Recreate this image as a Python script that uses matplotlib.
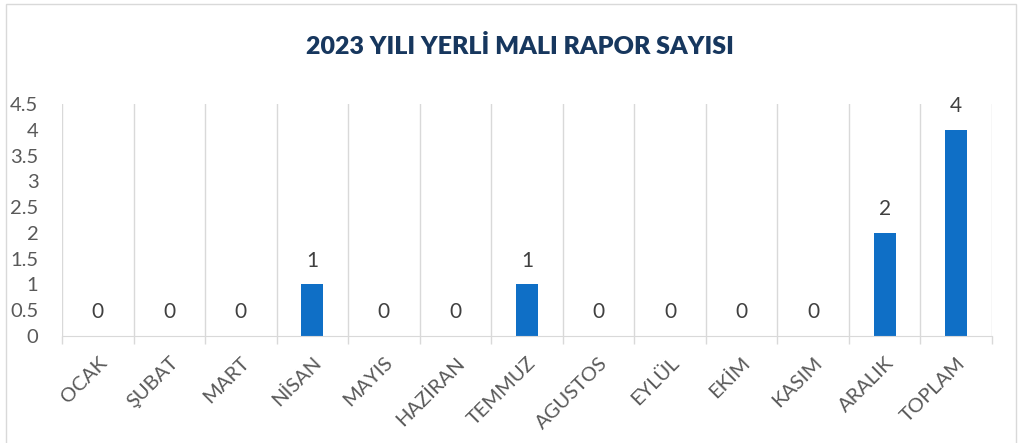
import numpy as np
import matplotlib.pyplot as plt
from matplotlib.patches import Rectangle

plt.rcParams['font.family'] = ['Lato', 'DejaVu Sans']

months = ['OCAK', 'ŞUBAT', 'MART', 'NİSAN', 'MAYIS', 'HAZİRAN', 'TEMMUZ',
          'AGUSTOS', 'EYLÜL', 'EKİM', 'KASIM', 'ARALIK', 'TOPLAM']
reports = [0, 0, 0, 1, 0, 0, 1, 0, 0, 0, 0, 2, 4]
yticks = [0, 0.5, 1, 1.5, 2, 2.5, 3, 3.5, 4, 4.5]

fig = plt.figure(figsize=(10.23, 4.43), dpi=100)
# light chart border
fig.patches.append(Rectangle((6 / 1023, -0.01), 1010 / 1023, 1.0, transform=fig.transFigure,
                             fill=False, edgecolor='#D9D9D9', linewidth=1))
ax = fig.add_axes([62 / 1023, 1 - 336 / 443, 930 / 1023, 232 / 443])

x = np.arange(len(months))
bars = ax.bar(x, reports, width=0.31, color='#0F6FC6')
ax.bar_label(bars, labels=[str(v) for v in reports], padding=10, fontsize=15, color='#404040')

ax.set_xlim(-0.5, len(months) - 0.5)
ax.set_ylim(0, 4.5)
ax.set_yticks(yticks)
ax.set_yticklabels(['0' if v == 0 else f'{v:g}' for v in yticks], fontsize=14.5, color='#595959')
ax.tick_params(axis='y', length=0, pad=17)

ax.set_xticks(x)
ax.set_xticklabels(months, rotation=45, ha='right', rotation_mode='anchor', fontsize=14.5, color='#595959')
ax.tick_params(axis='x', which='major', length=0, pad=13)
ax.set_xticks(np.arange(-0.5, len(months)), minor=True)
ax.tick_params(axis='x', which='minor', length=6, color='#D9D9D9', width=1)
ax.grid(axis='x', which='minor', color='#D9D9D9', linewidth=1)
ax.set_axisbelow(True)

for s in ['top', 'right', 'left']:
    ax.spines[s].set_visible(False)
ax.spines['bottom'].set_color('#D9D9D9')

fig.text(0.508, 1 - 47 / 443, '2023 YILI YERLİ MALI RAPOR SAYISI', ha='center', va='center',
         fontsize=18, fontweight='heavy', color='#17375E')

plt.savefig('out.png', dpi=100)
